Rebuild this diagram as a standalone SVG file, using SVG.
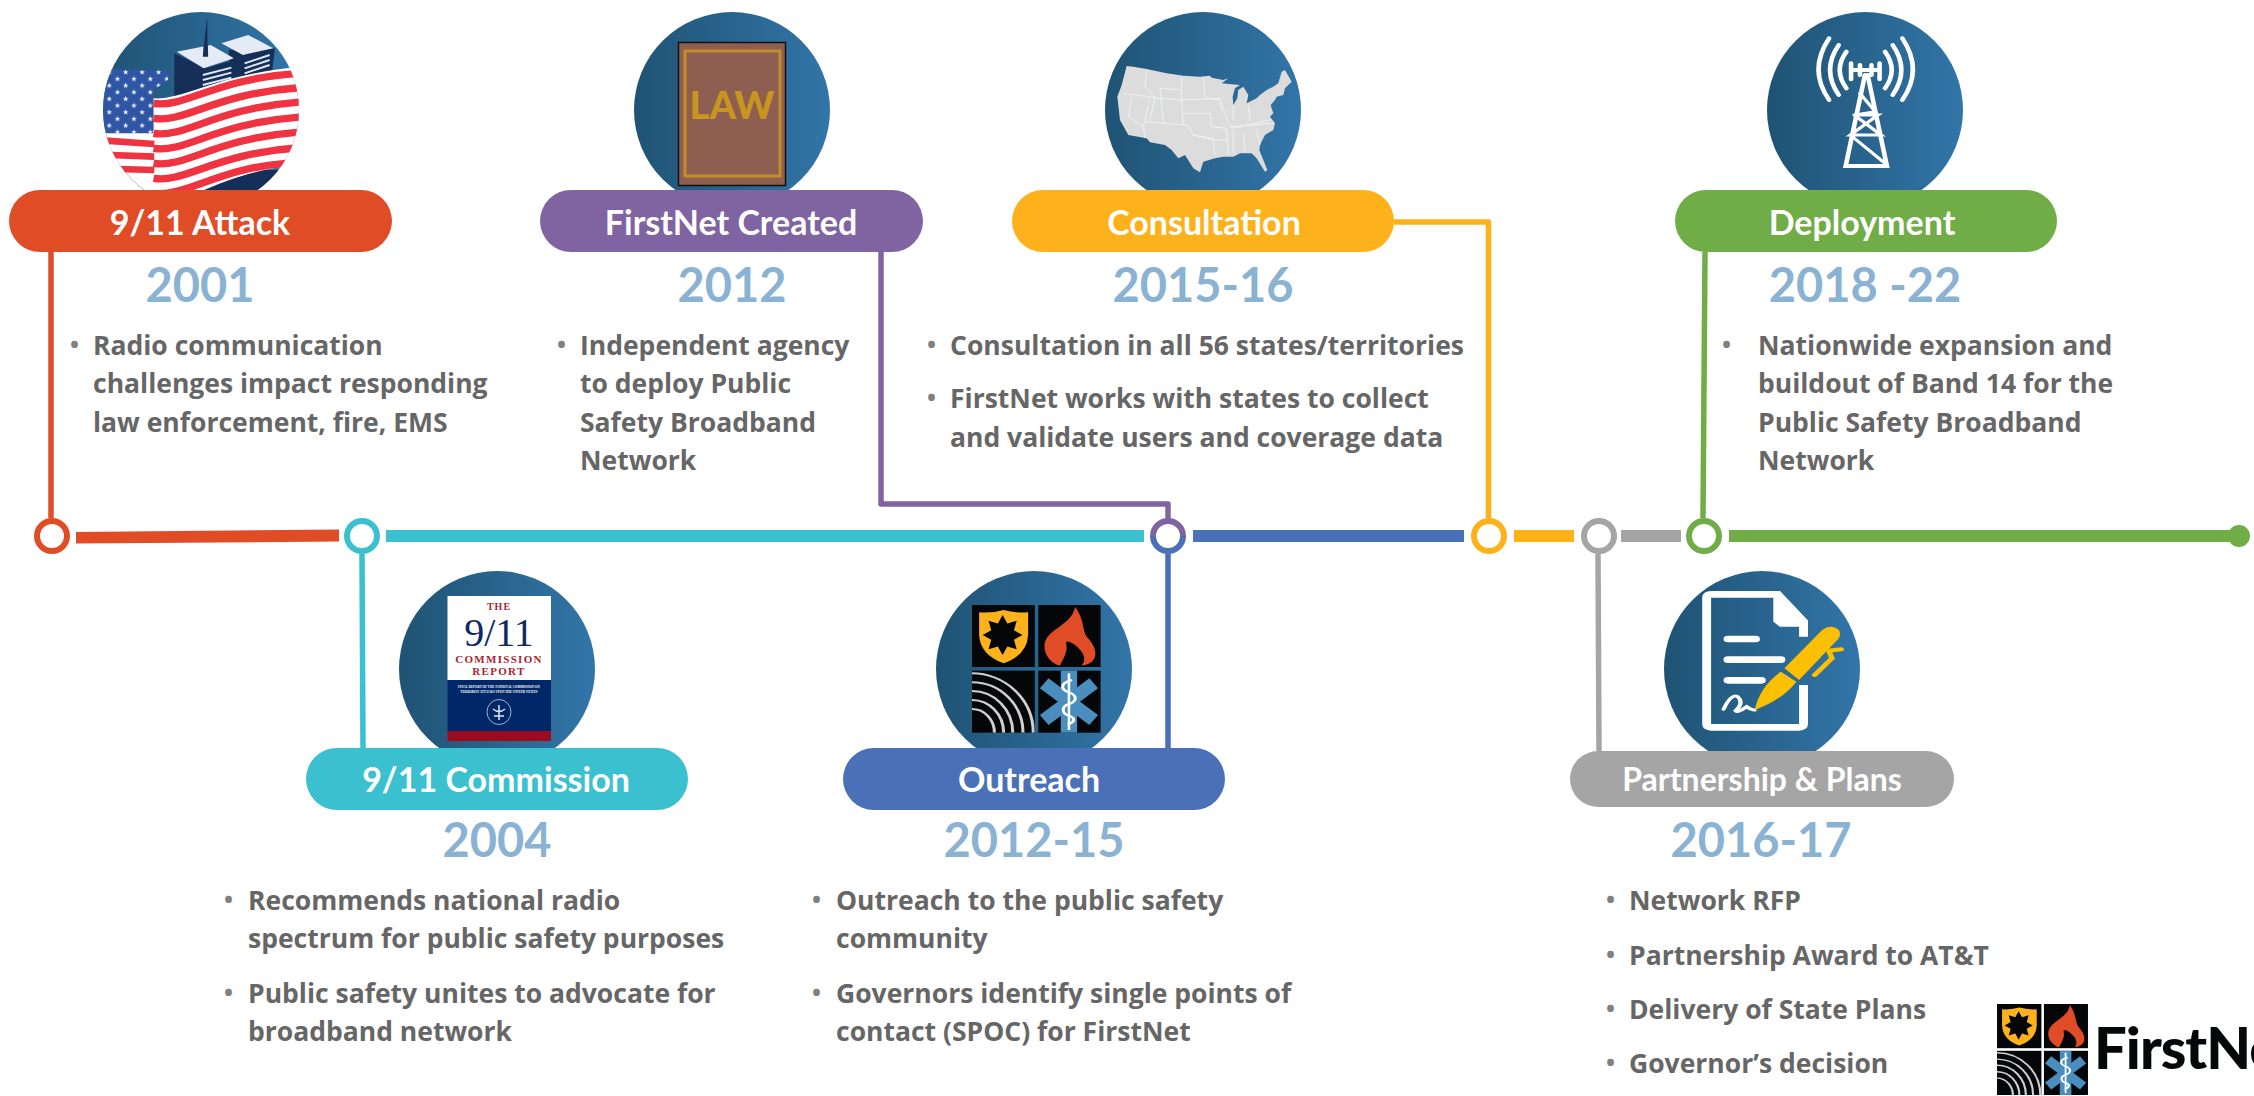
<svg xmlns="http://www.w3.org/2000/svg" xmlns:xlink="http://www.w3.org/1999/xlink" width="2254" height="1096" viewBox="0 0 2254 1096">
<style>
text{font-family:Lato,"Liberation Sans",sans-serif;font-weight:700}
.pill{font-size:34px;fill:#fff;text-anchor:middle}
.year{font-size:47px;fill:#8ab2d3;text-anchor:middle}
.body{font-size:26.500px;fill:#666;font-family:"Open Sans","Liberation Sans",sans-serif}
.bullet{font-size:24px;fill:#808080;font-family:"Open Sans","Liberation Sans",sans-serif}
.conn{fill:none;stroke-width:5.5;stroke-linejoin:round}
.dot{fill:#fff;stroke-width:6}
.seg{stroke:none}
.rep{font-family:"Liberation Serif",serif;text-anchor:middle}
</style>
<defs>
<linearGradient id="g" x1="0" x2="1" y1="0" y2="0"><stop offset="0" stop-color="#1f5374"/><stop offset="1" stop-color="#3275a8"/></linearGradient>
<clipPath id="c1"><circle cx="201" cy="110" r="98"/></clipPath>
<clipPath id="csq"><rect x="0" y="197" width="123" height="186"/></clipPath>
<pattern id="stars" width="46" height="40" patternUnits="userSpaceOnUse" patternTransform="translate(296 205)">
<polygon points="10,3 12,9 18,10 13,13 15,19 10,15 5,19 7,13 2,10 8,9" fill="#fff"/>
<polygon points="33,23 35,29 41,30 36,33 38,39 33,35 28,39 30,33 25,30 31,29" fill="#fff"/>
</pattern>
<g id="emblem">
<rect x="0" y="0" width="123" height="186" fill="#040608"/>
<rect x="130" y="0" width="122" height="186" fill="#040608"/>
<rect x="0" y="197" width="123" height="186" fill="#040608"/>
<rect x="130" y="197" width="122" height="186" fill="#040608"/>
<path d="M14 22Q40 25 62 15Q85 25 110 22L110 90Q108 150 62 175Q16 150 14 90Z" fill="#fdb21b"/>
<polygon points="99,90 82.3,104.2 87.6,132.4 69.3,124.3 60,150 50.7,124.3 32.4,132.4 37.7,104.2 21,90 37.7,75.8 32.4,47.6 50.7,55.7 60,30 69.3,55.7 87.6,47.6 82.3,75.8" fill="#040608"/>
<path d="M202 5C222 50 215 70 225 95C240 120 245 140 240 160C235 175 225 180 215 182C225 165 220 140 200 118C190 108 182 105 185 120C188 140 178 165 172 182C155 175 142 150 142 125C142 90 165 75 180 55C192 40 200 25 202 5Z" fill="#e04c26"/>
<g clip-path="url(#csq)" fill="none" stroke="#cfcfcf" stroke-width="6">
<path d="M0 205A120 178 0 0 1 120 383"/><path d="M0 232A100 151 0 0 1 100 383"/><path d="M0 258A80 125 0 0 1 80 383"/><path d="M0 285A62 98 0 0 1 62 383"/><path d="M0 312A44 71 0 0 1 44 383"/>
</g>
<rect x="174" y="197" width="32" height="186" fill="#4a8dbf"/>
<polygon points="133,250 150,220 247,330 230,360" fill="#4a8dbf"/>
<polygon points="133,330 150,360 247,250 230,220" fill="#4a8dbf"/>
<path d="M190 205V375" stroke="#fff" stroke-width="5" fill="none"/>
<path d="M196 225C170 235 175 255 190 262C208 272 205 290 190 297C175 305 175 325 190 332C205 340 200 352 188 358" stroke="#fff" stroke-width="6" fill="none"/>
</g>
</defs>
<rect width="2254" height="1096" fill="#fff"/>

<g id="connectors">
<polygon class="seg" points="76,532 339,529.5 339,541.5 76,543.5" fill="#e04c26"/>
<rect class="seg" x="386" y="530" width="758" height="12" fill="#3bc0cf"/>
<rect class="seg" x="1193" y="530" width="271" height="12" fill="#4a70b7"/>
<rect class="seg" x="1514" y="530" width="60" height="12" fill="#fdb21b"/>
<rect class="seg" x="1621" y="530" width="60" height="12" fill="#a5a5a5"/>
<rect class="seg" x="1729" y="530" width="510" height="12" fill="#70ad47"/>
<circle cx="2239" cy="536" r="11" fill="#70ad47"/>
<path class="conn" d="M51 252V518" stroke="#e04c26"/>
<path class="conn" d="M881 252V504H1168V518" stroke="#8064a2"/>
<path class="conn" d="M1394 222H1488.500V518" stroke="#fdb21b"/>
<path class="conn" d="M1705 252L1703 518" stroke="#70ad47"/>
<path class="conn" d="M362 554L363 748" stroke="#3bc0cf"/>
<path class="conn" d="M1168 554V748" stroke="#4a70b7"/>
<path class="conn" d="M1598 554L1599 751" stroke="#a5a5a5"/>
<circle class="dot" cx="52" cy="536" r="15" stroke="#e04c26"/>
<circle class="dot" cx="362" cy="536" r="15" stroke="#3bc0cf"/>
<circle cx="1168" cy="536" r="15" fill="#fff"/>
<path d="M1153 536A15 15 0 0 1 1183 536" fill="none" stroke="#8064a2" stroke-width="6"/>
<path d="M1153 536A15 15 0 0 0 1183 536" fill="none" stroke="#4a70b7" stroke-width="6"/>
<circle class="dot" cx="1489" cy="536" r="15" stroke="#fdb21b"/>
<circle class="dot" cx="1599" cy="536" r="15" stroke="#a5a5a5"/>
<circle class="dot" cx="1704" cy="536" r="15" stroke="#70ad47"/>
</g>

<g id="node-2001">
<circle cx="201" cy="110" r="98" fill="url(#g)"/>
<g clip-path="url(#c1)"><g transform="scale(.3571 .3333)">
<polygon points="580,50 568,165 582,165" fill="#162f59"/>
<polygon points="640,150 770,145 760,230 650,260" fill="#162f59"/>
<polygon points="620,130 695,105 765,145 680,165" fill="#e4ebf7"/>
<polygon points="488,160 575,205 655,180 660,230 488,295" fill="#162f59"/>
<polygon points="495,155 590,135 655,175 570,205" fill="#e4ebf7"/>
<polygon points="568,170 570,135 582,135 583,170" fill="#162f59"/>
<path d="M568 225L648 203M568 240L648 218M568 255L648 233M685 190L755 165M685 205L755 180M685 220L755 195" stroke="#dfe7f3" stroke-width="6" fill="none"/>
<rect x="290" y="510" width="560" height="70" fill="#162f59"/>
<path d="M290 390H432V575H345L290 430Z" fill="#fff"/>
<path d="M290 205Q380 212 465 210Q478 215 470 240L430 270V400L290 400Z" fill="#2f55a5"/>
<path d="M290 205Q380 212 465 210Q478 215 470 240L430 270V400L290 400Z" fill="url(#stars)"/>
<path d="M430 295C520 300 600 225 840 200V495C720 505 640 540 560 575H430Z" fill="#fff"/>
<g fill="none" stroke="#ef3340" stroke-width="22">
<path d="M430 310C520 325 600 235 840 220"/>
<path d="M430 355C520 370 600 280 840 263"/>
<path d="M430 400C520 415 600 325 840 306"/>
<path d="M430 445C520 460 600 370 840 351"/>
<path d="M430 490C520 505 600 415 840 396"/>
<path d="M430 535C520 550 600 460 840 443"/>
<path d="M430 580C520 592 610 505 800 490"/>
<path d="M295 422L432 432M310 465L432 470M330 507L432 510" stroke-width="20"/>
</g>
</g></g>
<rect x="9" y="190" width="383" height="62" rx="31" fill="#e04c26"/>
<text class="pill" x="200" y="235">9/11 Attack</text>
<text class="year" x="200" y="302">2001</text>
<text class="bullet" x="70" y="353">•</text>
<text class="body" x="93" y="355">Radio communication</text>
<text class="body" x="93" y="393">challenges impact responding</text>
<text class="body" x="93" y="432">law enforcement, fire, EMS</text>
</g>

<g id="node-2012">
<circle cx="732" cy="110" r="98" fill="url(#g)"/>
<rect x="678.500" y="42.500" width="107" height="143" fill="#8e5e50" stroke="#111" stroke-width="1.500"/>
<rect x="685" y="51" width="95" height="125" fill="none" stroke="#c18e2a" stroke-width="3"/>
<text x="732" y="119" font-size="38" fill="#c8961f" text-anchor="middle" style="font-weight:900">LAW</text>
<rect x="540" y="190" width="383" height="62" rx="31" fill="#8064a2"/>
<text class="pill" x="731" y="235">FirstNet Created</text>
<text class="year" x="732" y="302">2012</text>
<text class="bullet" x="557" y="353">•</text>
<text class="body" x="580" y="355">Independent agency</text>
<text class="body" x="580" y="393">to deploy Public</text>
<text class="body" x="580" y="432">Safety Broadband</text>
<text class="body" x="580" y="470">Network</text>
</g>

<g id="node-2015">
<circle cx="1203" cy="110" r="98" fill="url(#g)"/>
<g transform="translate(1100 55) scale(.3333)">
<path d="M80 33L100 35L140 42L200 55L250 62L300 65L330 62L335 68L370 75L385 70L365 85L395 88L420 90L405 100L398 125L400 150L412 130L415 105L430 95L445 120L440 145L470 130L480 120L500 105L520 95L535 85L545 50L555 45L575 80L555 100L550 120L530 125L525 135L512 150L520 175L510 185L525 205L520 225L495 240L480 270L478 285L502 345L495 350L470 310L455 295L420 295L400 305L370 305L345 310L310 320L300 352L280 340L255 300L235 310L215 285L195 270L150 262L140 250L85 240L60 195L52 125L65 90Z" fill="#dcdcdc"/>
<path d="M140 45L135 95L165 130L150 195M70 115L180 130L245 135M95 125L85 185L130 215M150 130L130 215L135 250M180 100L245 105M245 65L245 135L250 210M180 100L190 205M135 200L260 210L280 240L340 255M250 175L330 175M310 65L315 130L360 135L365 170M245 135L365 130M330 175L335 215L380 220M280 240L340 250L345 300M380 220L385 300M360 135L385 200L395 220L510 195M400 230L400 295M430 235L435 290M470 225L480 270M445 150L450 200M395 215L520 205M400 150L400 195M340 255L380 255" stroke="#f1f4f6" stroke-width="2.500" fill="none"/>
</g>
<rect x="1012" y="190" width="382" height="62" rx="31" fill="#fdb21b"/>
<text class="pill" x="1204" y="235">Consultation</text>
<text class="year" x="1203" y="302">2015-16</text>
<text class="bullet" x="927" y="353">•</text>
<text class="body" x="950" y="355">Consultation in all 56 states/territories</text>
<text class="bullet" x="927" y="406">•</text>
<text class="body" x="950" y="408">FirstNet works with states to collect</text>
<text class="body" x="950" y="447">and validate users and coverage data</text>
</g>

<g id="node-2018">
<circle cx="1865" cy="110" r="98" fill="url(#g)"/>
<g transform="translate(1650 0) scale(.3852 .3333)" fill="none" stroke="#fff" stroke-width="12" stroke-linecap="round">
<path d="M465 115Q410 210 465 300M490 135Q445 210 490 285M510 155Q475 210 510 265M655 115Q710 210 655 300M630 135Q675 210 630 285M610 155Q645 210 610 265"/>
<path d="M558 225L508 498H615L565 225M522 210H596M522 190V238M596 190V238M545 195V225M575 195V225"/>
<path d="M545 280L585 335L532 345H592L520 405H600L530 345M520 405L608 488" stroke-width="9"/>
</g>
<rect x="1675" y="190" width="382" height="62" rx="31" fill="#70ad47"/>
<text class="pill" x="1862" y="235">Deployment</text>
<text class="year" x="1865" y="302">2018 -22</text>
<text class="bullet" x="1722" y="353">•</text>
<text class="body" x="1758" y="355">Nationwide expansion and</text>
<text class="body" x="1758" y="393">buildout of Band 14 for the</text>
<text class="body" x="1758" y="432">Public Safety Broadband</text>
<text class="body" x="1758" y="470">Network</text>
</g>

<g id="node-2004">
<circle cx="497" cy="669" r="98" fill="url(#g)"/>
<rect x="447.500" y="596" width="103.500" height="84" fill="#fff"/>
<rect x="447.500" y="680" width="103.500" height="51" fill="#002868"/>
<rect x="447.500" y="731" width="103.500" height="10" fill="#9c0a1e"/>
<text class="rep" x="499" y="610" font-size="10" fill="#a81f30" letter-spacing="1">THE</text>
<text class="rep" x="499" y="646" font-size="40" fill="#0f2a63" style="font-weight:400">9/11</text>
<text class="rep" x="499" y="663" font-size="11" fill="#a81f30" letter-spacing="1.300">COMMISSION</text>
<text class="rep" x="499" y="675" font-size="11" fill="#a81f30" letter-spacing="1.300">REPORT</text>
<text class="rep" x="499" y="688" font-size="3.200" fill="#fff">FINAL REPORT OF THE NATIONAL COMMISSION ON</text>
<text class="rep" x="499" y="693" font-size="3.200" fill="#fff">TERRORIST ATTACKS UPON THE UNITED STATES</text>
<ellipse cx="499" cy="712" rx="12" ry="12.500" fill="none" stroke="#c9d3e6" stroke-width=".8"/>
<path d="M499 705V720M493 709Q499 714 505 709M494 716H504" stroke="#dfe5f0" stroke-width="1.500" fill="none"/>
<rect x="306" y="748" width="382" height="62" rx="31" fill="#3bc0cf"/>
<text class="pill" x="496" y="792">9/11 Commission</text>
<text class="year" x="497" y="857">2004</text>
<text class="bullet" x="224" y="908">•</text>
<text class="body" x="248" y="910">Recommends national radio</text>
<text class="body" x="248" y="948">spectrum for public safety purposes</text>
<text class="bullet" x="224" y="1001">•</text>
<text class="body" x="248" y="1003">Public safety unites to advocate for</text>
<text class="body" x="248" y="1041">broadband network</text>
</g>

<g id="node-2012-15">
<circle cx="1034" cy="669" r="98" fill="url(#g)"/>
<use xlink:href="#emblem" href="#emblem" transform="translate(972 605) scale(.5102 .3333)"/>
<rect x="843" y="748" width="382" height="62" rx="31" fill="#4a70b7"/>
<text class="pill" x="1029" y="792">Outreach</text>
<text class="year" x="1034" y="857">2012-15</text>
<text class="bullet" x="812" y="908">•</text>
<text class="body" x="836" y="910">Outreach to the public safety</text>
<text class="body" x="836" y="948">community</text>
<text class="bullet" x="812" y="1001">•</text>
<text class="body" x="836" y="1003">Governors identify single points of</text>
<text class="body" x="836" y="1041">contact (SPOC) for FirstNet</text>
</g>

<g id="node-2016">
<circle cx="1762" cy="669" r="98" fill="url(#g)"/>
<g transform="translate(1560 490) scale(.4444 .3333)">
<path d="M548 440V395L490 313H340Q330 313 330 323V702Q330 712 340 712H538Q548 712 548 702V585" fill="none" stroke="#fff" stroke-width="20"/>
<polygon points="480,315 555,400 555,410 495,410 480,395" fill="#fff"/>
<g stroke="#fff" stroke-linecap="round" fill="none">
<path d="M378 447H440M378 509H497M378 571H453" stroke-width="20"/>
<path d="M368 658Q385 610 400 620Q415 640 395 662Q400 670 420 650Q430 660 438 660" stroke-width="9"/>
</g>
<path d="M438 660Q450 590 497 545L532 575Q500 630 438 660Z" fill="#fcc000"/>
<path d="M505 535L590 420Q610 400 628 420Q635 440 620 455L538 570Z" fill="#fcc000"/>
<path d="M573 555L612 505L605 482L633 478" fill="none" stroke="#fcc000" stroke-width="12" stroke-linecap="round"/>
</g>
<rect x="1570" y="751" width="384" height="56" rx="28" fill="#a5a5a5"/>
<text class="pill" x="1762" y="791" style="font-size:32px">Partnership &amp; Plans</text>
<text class="year" x="1761" y="857">2016-17</text>
<text class="bullet" x="1606" y="908">•</text>
<text class="body" x="1629" y="910">Network RFP</text>
<text class="bullet" x="1606" y="963">•</text>
<text class="body" x="1629" y="965">Partnership Award to AT&amp;T</text>
<text class="bullet" x="1606" y="1017">•</text>
<text class="body" x="1629" y="1019">Delivery of State Plans</text>
<text class="bullet" x="1606" y="1071">•</text>
<text class="body" x="1629" y="1073">Governor’s decision</text>
</g>

<g id="logo">
<use xlink:href="#emblem" href="#emblem" transform="translate(1997 1004) scale(.361 .2376)"/>
<text x="2094" y="1069" font-size="58" letter-spacing="-1" fill="#050708" style="font-weight:900">FirstNet</text>
</g>
</svg>
